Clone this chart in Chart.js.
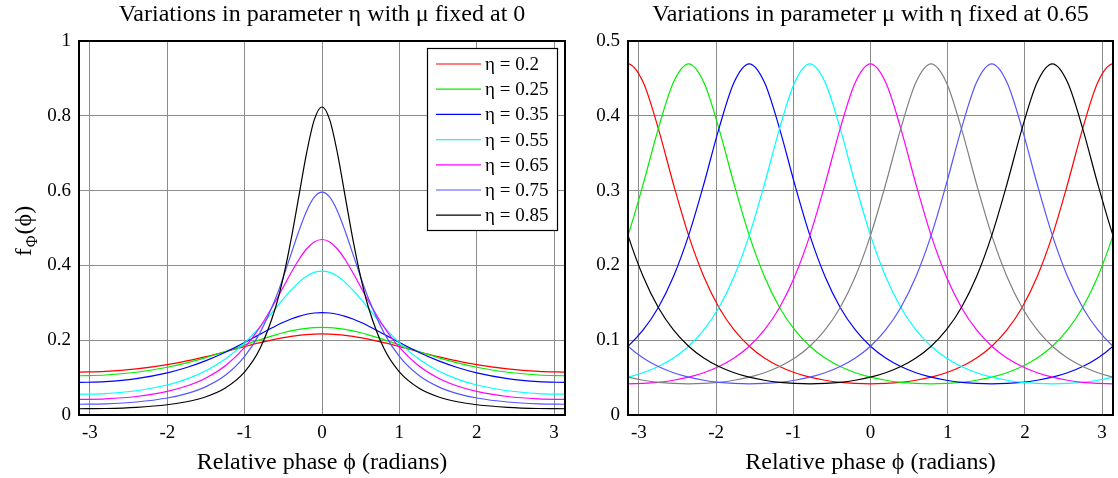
<!DOCTYPE html>
<html>
<head>
<meta charset="utf-8">
<script src="https://cdn.jsdelivr.net/npm/chart.js@4.4.1/dist/chart.umd.min.js"></script>
<style>
  html, body { margin: 0; padding: 0; background: #fff; }
  #wrap { position: relative; width: 1118px; height: 478px; }
  canvas { position: absolute; top: 0; }
  #left { left: 0; }
  #right { left: 580px; }
</style>
</head>
<body>
<div id="wrap">
  <canvas id="left" width="580" height="478"></canvas>
  <canvas id="right" width="538" height="478"></canvas>
</div>
<script>
// ---- data ----
const xTicks = [-3, -2, -1, 0, 1, 2, 3];
const xTickLabels = ['-3', '-2', '-1', '0', '1', '2', '3'];
const yTicksLeft = [0, 0.2, 0.4, 0.6, 0.8, 1];
const yTickLabelsLeft = ['0', '0.2', '0.4', '0.6', '0.8', '1'];
const yTicksRight = [0, 0.1, 0.2, 0.3, 0.4, 0.5];
const yTickLabelsRight = ['0', '0.1', '0.2', '0.3', '0.4', '0.5'];

// left panel: mu = 0, several eta
const phaseLeft = [-3.1416, -2.8, -2.4, -2.0, -1.75, -1.5, -1.25, -1.0, -0.8, -0.6, -0.5, -0.4, -0.3, -0.2, -0.1,
  0, 0.1, 0.2, 0.3, 0.4, 0.5, 0.6, 0.8, 1.0, 1.25, 1.5, 1.75, 2.0, 2.4, 2.8, 3.1416];
const etaLabels = ['η = 0.2', 'η = 0.25', 'η = 0.35', 'η = 0.55', 'η = 0.65', 'η = 0.75', 'η = 0.85'];
const etaColors = ['#ff0000', '#00ee00', '#0000ff', '#00ffff', '#ff00ff', '#5555ff', '#000000'];
const eta020 = [0.1147,0.1164,0.1231,0.1347,0.1446,0.1563,0.1692,0.1828,0.1933,0.2027,0.2068,0.2102,0.2130,0.2151,0.2163,
  0.2167,0.2163,0.2151,0.2130,0.2102,0.2068,0.2027,0.1933,0.1828,0.1692,0.1563,0.1446,0.1347,0.1231,0.1164,0.1147];
const eta025 = [0.1050,0.1069,0.1143,0.1277,0.1393,0.1535,0.1697,0.1873,0.2014,0.2143,0.2199,0.2248,0.2288,0.2317,0.2335,
  0.2341,0.2335,0.2317,0.2288,0.2248,0.2199,0.2143,0.2014,0.1873,0.1697,0.1535,0.1393,0.1277,0.1143,0.1069,0.1050];
const eta035 = [0.0870,0.0891,0.0973,0.1128,0.1270,0.1453,0.1678,0.1940,0.2163,0.2381,0.2479,0.2567,0.2639,0.2693,0.2727,
  0.2738,0.2727,0.2693,0.2639,0.2567,0.2479,0.2381,0.2163,0.1940,0.1678,0.1453,0.1270,0.1128,0.0973,0.0891,0.0870];
const eta055 = [0.0556,0.0574,0.0649,0.0802,0.0958,0.1182,0.1496,0.1927,0.2361,0.2853,0.3102,0.3338,0.3545,0.3708,0.3812,
  0.3848,0.3812,0.3708,0.3545,0.3338,0.3102,0.2853,0.2361,0.1927,0.1496,0.1182,0.0958,0.0802,0.0649,0.0574,0.0556];
const eta065 = [0.0416,0.0432,0.0495,0.0630,0.0774,0.0990,0.1317,0.1807,0.2355,0.3044,0.3423,0.3802,0.4152,0.4438,0.4627,
  0.4693,0.4627,0.4438,0.4152,0.3802,0.3423,0.3044,0.2355,0.1807,0.1317,0.0990,0.0774,0.0630,0.0495,0.0432,0.0416];
const eta075 = [0.0287,0.0299,0.0347,0.0454,0.0572,0.0759,0.1062,0.1567,0.2203,0.3120,0.3687,0.4301,0.4913,0.5450,0.5823,
  0.5957,0.5823,0.5450,0.4913,0.4301,0.3687,0.3120,0.2203,0.1567,0.1062,0.0759,0.0572,0.0454,0.0347,0.0299,0.0287];
const eta085 = [0.0167,0.0174,0.0205,0.0274,0.0354,0.0487,0.0720,0.1152,0.1782,0.2880,0.3686,0.4688,0.5841,0.6997,0.7892,
  0.8235,0.7892,0.6997,0.5841,0.4688,0.3686,0.2880,0.1782,0.1152,0.0720,0.0487,0.0354,0.0274,0.0205,0.0174,0.0167];
const etaSeries = [eta020, eta025, eta035, eta055, eta065, eta075, eta085];

// right panel: eta = 0.65, several mu (one sample past each edge so the ends curve properly; clipped)
const phaseRight = [-3.3379,-3.1416,-2.9452,-2.7489,-2.5525,-2.3562,-2.1598,-1.9635,-1.7671,-1.5708,-1.3744,-1.1781,-0.9817,
  -0.7854,-0.5890,-0.3927,-0.1963,0,0.1963,0.3927,0.5890,0.7854,0.9817,1.1781,1.3744,1.5708,1.7671,1.9635,2.1598,
  2.3562,2.5525,2.7489,2.9452,3.1416,3.3379];
const muColors = ['#ff0000', '#00ee00', '#0000ff', '#00ffff', '#ff00ff', '#808080', '#5555ff', '#000000'];
const muNeg4 = [0.4447,0.4693,0.4447,0.3829,0.3085,0.2401,0.1851,0.1438,0.1137,0.0919,0.0762,0.0648,0.0565,0.0506,0.0465,0.0437,0.0422,
  0.0416,0.0422,0.0437,0.0465,0.0506,0.0565,0.0648,0.0762,0.0919,0.1137,0.1438,0.1851,0.2401,0.3085,0.3829,0.4447,0.4693,0.4447];
const muNeg3 = [0.1851,0.2401,0.3085,0.3829,0.4447,0.4693,0.4447,0.3829,0.3085,0.2401,0.1851,0.1438,0.1137,0.0919,0.0762,0.0648,0.0565,
  0.0506,0.0465,0.0437,0.0422,0.0416,0.0422,0.0437,0.0465,0.0506,0.0565,0.0648,0.0762,0.0919,0.1137,0.1438,0.1851,0.2401,0.3085];
const muNeg2 = [0.0762,0.0919,0.1137,0.1438,0.1851,0.2401,0.3085,0.3829,0.4447,0.4693,0.4447,0.3829,0.3085,0.2401,0.1851,0.1438,0.1137,
  0.0919,0.0762,0.0648,0.0565,0.0506,0.0465,0.0437,0.0422,0.0416,0.0422,0.0437,0.0465,0.0506,0.0565,0.0648,0.0762,0.0919,0.1137];
const muNeg1 = [0.0465,0.0506,0.0565,0.0648,0.0762,0.0919,0.1137,0.1438,0.1851,0.2401,0.3085,0.3829,0.4447,0.4693,0.4447,0.3829,0.3085,
  0.2401,0.1851,0.1438,0.1137,0.0919,0.0762,0.0648,0.0565,0.0506,0.0465,0.0437,0.0422,0.0416,0.0422,0.0437,0.0465,0.0506,0.0565];
const muZero = [0.0422,0.0416,0.0422,0.0437,0.0465,0.0506,0.0565,0.0648,0.0762,0.0919,0.1137,0.1438,0.1851,0.2401,0.3085,0.3829,0.4447,
  0.4693,0.4447,0.3829,0.3085,0.2401,0.1851,0.1438,0.1137,0.0919,0.0762,0.0648,0.0565,0.0506,0.0465,0.0437,0.0422,0.0416,0.0422];
const muPos1 = [0.0565,0.0506,0.0465,0.0437,0.0422,0.0416,0.0422,0.0437,0.0465,0.0506,0.0565,0.0648,0.0762,0.0919,0.1137,0.1438,0.1851,
  0.2401,0.3085,0.3829,0.4447,0.4693,0.4447,0.3829,0.3085,0.2401,0.1851,0.1438,0.1137,0.0919,0.0762,0.0648,0.0565,0.0506,0.0465];
const muPos2 = [0.1137,0.0919,0.0762,0.0648,0.0565,0.0506,0.0465,0.0437,0.0422,0.0416,0.0422,0.0437,0.0465,0.0506,0.0565,0.0648,0.0762,
  0.0919,0.1137,0.1438,0.1851,0.2401,0.3085,0.3829,0.4447,0.4693,0.4447,0.3829,0.3085,0.2401,0.1851,0.1438,0.1137,0.0919,0.0762];
const muPos3 = [0.3085,0.2401,0.1851,0.1438,0.1137,0.0919,0.0762,0.0648,0.0565,0.0506,0.0465,0.0437,0.0422,0.0416,0.0422,0.0437,0.0465,
  0.0506,0.0565,0.0648,0.0762,0.0919,0.1137,0.1438,0.1851,0.2401,0.3085,0.3829,0.4447,0.4693,0.4447,0.3829,0.3085,0.2401,0.1851];
const muSeries = [muNeg4, muNeg3, muNeg2, muNeg1, muZero, muPos1, muPos2, muPos3];
const muLabels = ['μ = -π', 'μ = -3π/4', 'μ = -π/2', 'μ = -π/4', 'μ = 0', 'μ = π/4', 'μ = π/2', 'μ = 3π/4'];

// ---- drawing ----
const FONT = "'Liberation Serif', 'Times New Roman', serif";
const GRID = '#8c8c8c';

const panelDecor = {
  id: 'panelDecor',
  afterDraw(chart, args, opts) {
    const ctx = chart.ctx;
    const a = chart.chartArea;
    ctx.save();
    ctx.strokeStyle = '#000';
    ctx.lineWidth = 2;
    ctx.strokeRect(a.left, a.top, a.right - a.left, a.bottom - a.top);
    ctx.fillStyle = '#000';
    ctx.font = '24px ' + FONT;
    ctx.textAlign = 'center';
    ctx.textBaseline = 'alphabetic';
    ctx.fillText(opts.title, (a.left + a.right) / 2, 21);

    if (opts.yLabel) {
      ctx.translate(31, 231);
      ctx.rotate(-Math.PI / 2);
      ctx.textAlign = 'left';
      const big = '24px ' + FONT, small = '16px ' + FONT;
      ctx.font = big;
      const wf = ctx.measureText('f').width;
      const wp = ctx.measureText('(ϕ)').width;
      ctx.font = small;
      const ws = ctx.measureText('Φ').width;
      let x = -(wf + ws + wp + 2) / 2;
      ctx.font = big;
      ctx.fillText('f', x, 0);
      x += wf + 1;
      ctx.font = small;
      ctx.fillText('Φ', x, 6);
      x += ws + 1;
      ctx.font = big;
      ctx.fillText('(ϕ)', x, 0);
      ctx.setTransform(1, 0, 0, 1, 0, 0);
    }

    if (opts.legend) {
      const bx = 427.5, by = 48.5, bw = 130, bh = 182;
      ctx.fillStyle = '#fff';
      ctx.fillRect(bx, by, bw, bh);
      ctx.strokeStyle = '#000';
      ctx.lineWidth = 1.2;
      ctx.strokeRect(bx, by, bw, bh);
      ctx.font = '19px ' + FONT;
      ctx.textAlign = 'left';
      ctx.textBaseline = 'middle';
      chart.data.datasets.forEach((ds, i) => {
        const y = 64 + i * 25.2;
        ctx.strokeStyle = ds.borderColor;
        ctx.lineWidth = 1.2;
        ctx.beginPath();
        ctx.moveTo(436, y);
        ctx.lineTo(481, y);
        ctx.stroke();
        ctx.fillStyle = '#000';
        ctx.fillText(ds.label, 485, y + 1);
      });
    }
    ctx.restore();
  }
};

function buildOptions(cfg) {
  return {
    responsive: false,
    animation: false,
    devicePixelRatio: 1,
    layout: { padding: { top: 41, right: cfg.rightPad, left: 0, bottom: 0 } },
    elements: {
      point: { radius: 0 },
      line: { borderWidth: 1.2, cubicInterpolationMode: 'monotone', fill: false }
    },
    plugins: {
      legend: { display: false },
      tooltip: { enabled: false },
      panelDecor: { title: cfg.title, legend: cfg.legend, yLabel: cfg.yLabel }
    },
    scales: {
      x: {
        type: 'linear',
        min: -Math.PI,
        max: Math.PI,
        afterBuildTicks: (s) => { s.ticks = xTicks.map((v) => ({ value: v })); },
        afterFit: (s) => { s.height = 63; },
        grid: { color: GRID, lineWidth: 1, drawTicks: false },
        border: { display: false },
        ticks: {
          autoSkip: false, maxRotation: 0, padding: 7, color: '#000',
          font: { family: FONT, size: 19 },
          callback: (v, i) => xTickLabels[i]
        },
        title: {
          display: true, text: 'Relative phase ϕ (radians)', color: '#000',
          font: { family: FONT, size: 24 }, padding: { top: 0, bottom: 1 }
        }
      },
      y: {
        type: 'linear',
        min: 0,
        max: cfg.yMax,
        afterBuildTicks: (s) => { s.ticks = cfg.yTicks.map((v) => ({ value: v })); },
        afterFit: (s) => { s.width = cfg.yWidth; },
        grid: { color: GRID, lineWidth: 1, drawTicks: false },
        border: { display: false },
        ticks: {
          autoSkip: false, padding: 8, color: '#000',
          font: { family: FONT, size: 19 },
          callback: (v, i) => cfg.yTickLabels[i]
        }
      }
    }
  };
}

function toPoints(xs, ys) {
  return xs.map((x, i) => ({ x, y: ys[i] }));
}

new Chart(document.getElementById('left'), {
  type: 'line',
  data: {
    datasets: etaSeries.map((ys, i) => ({
      label: etaLabels[i],
      data: toPoints(phaseLeft, ys),
      borderColor: etaColors[i],
      order: etaSeries.length - i
    }))
  },
  options: buildOptions({
    title: 'Variations in parameter η with μ fixed at 0',
    yMax: 1, yTicks: yTicksLeft, yTickLabels: yTickLabelsLeft,
    yWidth: 79, rightPad: 15, legend: true, yLabel: true
  }),
  plugins: [panelDecor]
});

new Chart(document.getElementById('right'), {
  type: 'line',
  data: {
    datasets: muSeries.map((ys, i) => ({
      label: muLabels[i],
      data: toPoints(phaseRight, ys),
      borderColor: muColors[i],
      order: muSeries.length - i
    }))
  },
  options: buildOptions({
    title: 'Variations in parameter μ with η fixed at 0.65',
    yMax: 0.5, yTicks: yTicksRight, yTickLabels: yTickLabelsRight,
    yWidth: 48, rightPad: 5, legend: false, yLabel: false
  }),
  plugins: [panelDecor]
});
</script>
</body>
</html>
